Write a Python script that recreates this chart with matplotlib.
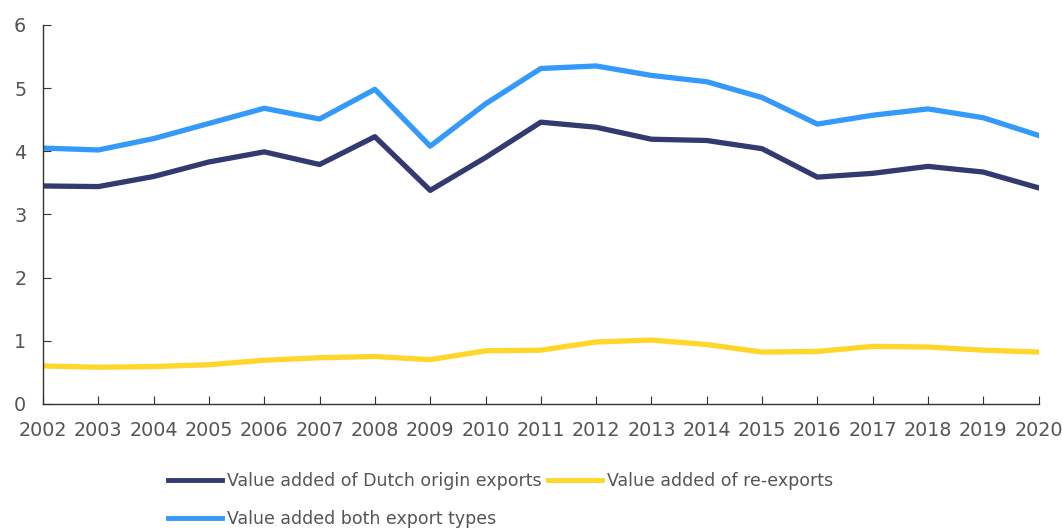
import matplotlib.pyplot as plt

years = list(range(2002, 2021))
dutch_origin = [3.45, 3.44, 3.60, 3.83, 3.99, 3.79, 4.23, 3.38, 3.90, 4.46, 4.38, 4.19, 4.17, 4.04, 3.59, 3.65, 3.76, 3.67, 3.42]
re_exports = [0.60, 0.58, 0.59, 0.62, 0.69, 0.73, 0.75, 0.70, 0.84, 0.85, 0.98, 1.01, 0.94, 0.82, 0.83, 0.91, 0.90, 0.85, 0.82]
both_types = [4.05, 4.02, 4.20, 4.44, 4.68, 4.51, 4.98, 4.08, 4.75, 5.31, 5.35, 5.20, 5.10, 4.85, 4.43, 4.57, 4.67, 4.53, 4.25]

labels = ['Value added of Dutch origin exports', 'Value added of re-exports', 'Value added both export types']
colors = ['#323a70', '#ffd62a', '#3399fa']

plt.rcParams['font.family'] = ['DejaVu Sans']
text_col = '#555555'

fig = plt.figure(figsize=(10.62, 5.30), dpi=100)
ax = fig.add_axes([0.0405, 0.238, 0.9375, 0.715])

l1, = ax.plot(years, dutch_origin, color=colors[0], lw=3.8, label=labels[0])
l2, = ax.plot(years, re_exports, color=colors[1], lw=3.8, label=labels[1])
l3, = ax.plot(years, both_types, color=colors[2], lw=3.8, label=labels[2])

ax.set_xlim(2002, 2020)
ax.set_ylim(0, 6)
ax.set_xticks(years)
ax.set_yticks(range(0, 7))
for s in ['top', 'right']:
    ax.spines[s].set_visible(False)
for s in ['left', 'bottom']:
    ax.spines[s].set_color('#333333')
    ax.spines[s].set_linewidth(1)
ax.tick_params(direction='in', length=6, color='#333333', labelcolor=text_col, labelsize=13.8)
ax.tick_params(axis='x', pad=12)
ax.tick_params(axis='y', pad=12)

# order handles so the legend reads row by row
leg = fig.legend([l1, l3, l2], [labels[0], labels[2], labels[1]],
                 loc='upper left', bbox_to_anchor=(0.158, 0.1085), ncol=2,
                 frameon=False, fontsize=12.5, handlelength=3.1, handletextpad=0.3,
                 columnspacing=0.4, labelspacing=1.15, borderpad=0, borderaxespad=0)
for t in leg.get_texts():
    t.set_color(text_col)
for h in leg.legend_handles:
    h.set_linewidth(3.5)

fig.savefig('out.png', dpi=100)
